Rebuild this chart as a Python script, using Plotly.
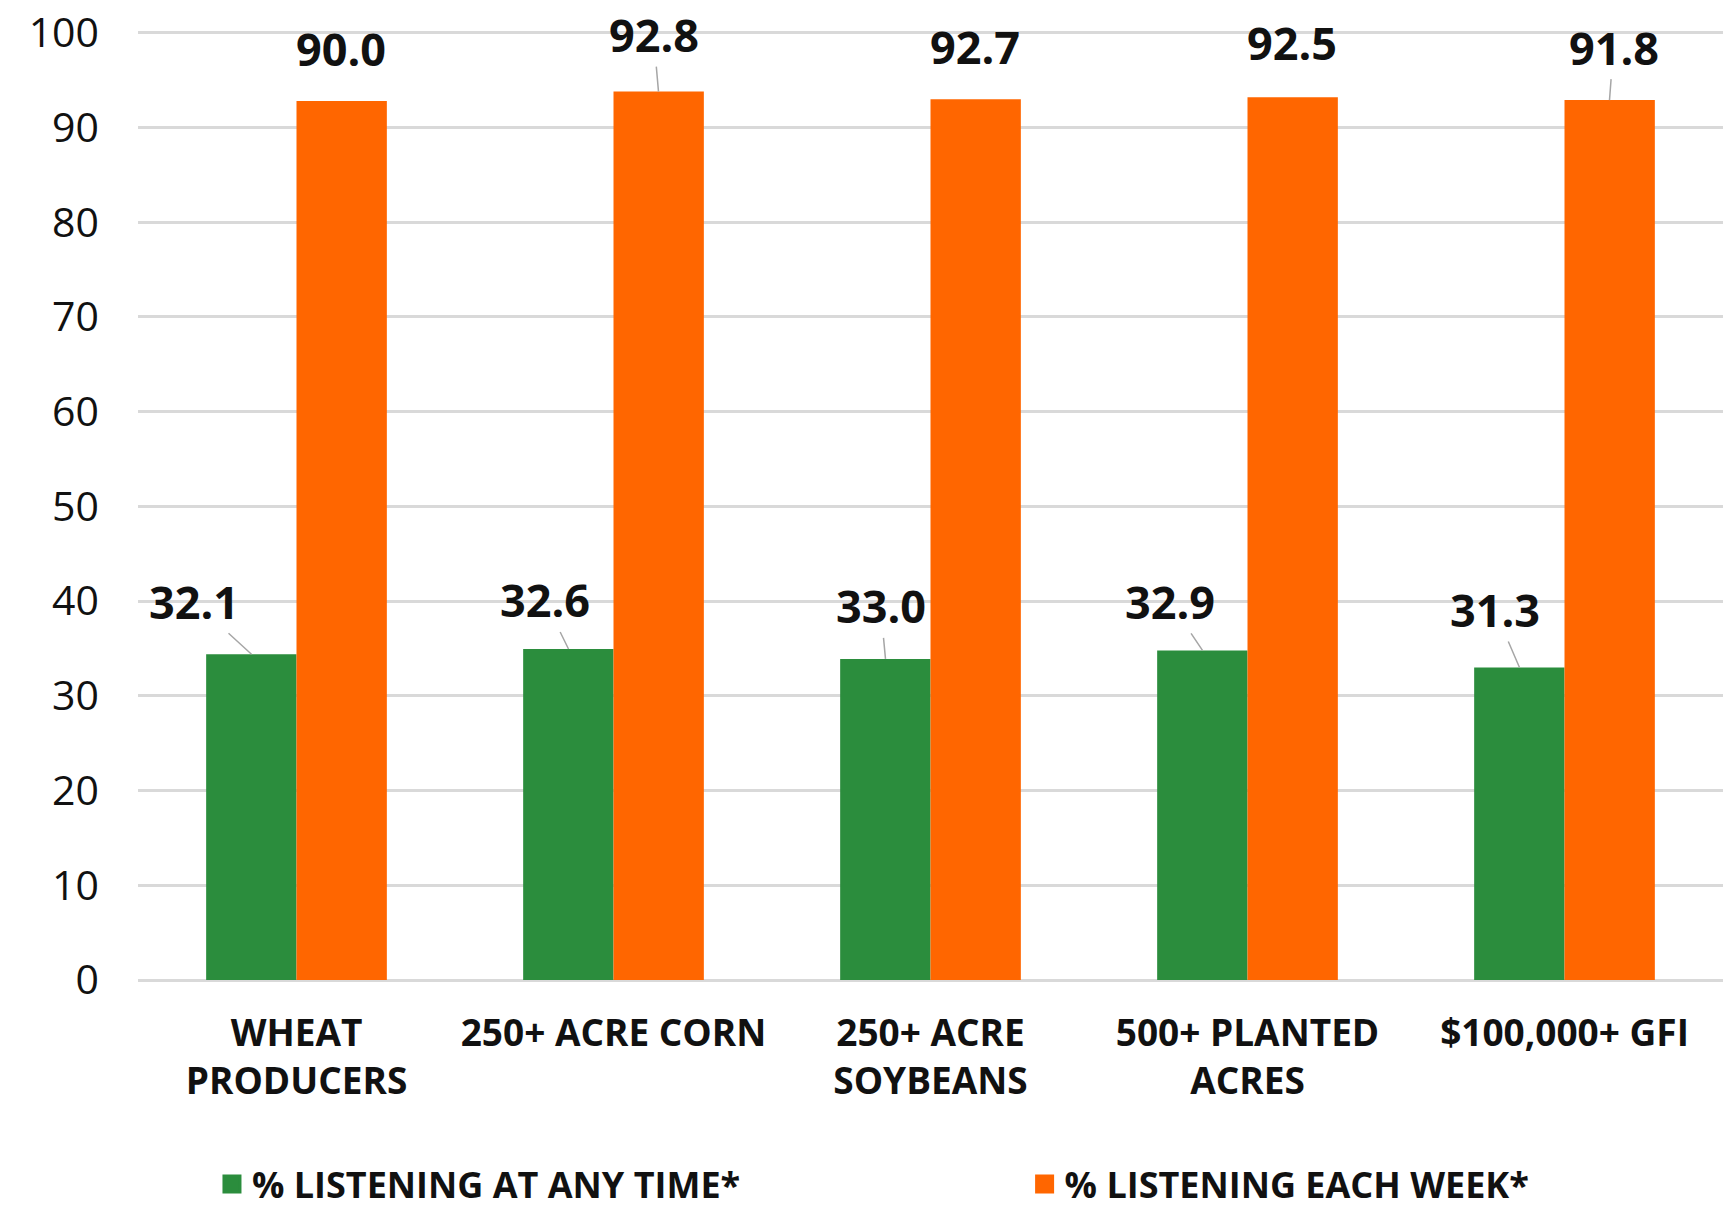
import plotly.graph_objects as go

# ---- data ----
categories = ["WHEAT<br>PRODUCERS", "250+ ACRE CORN", "250+ ACRE<br>SOYBEANS",
              "500+ PLANTED<br>ACRES", "$100,000+ GFI"]
series_names = ["% LISTENING AT ANY TIME*", "% LISTENING EACH WEEK*"]
any_time_bars = [34.4, 34.95, 33.9, 34.8, 33.0]
each_week_bars = [92.8, 93.8, 93.0, 93.2, 92.9]
any_time_labels = ["32.1", "32.6", "33.0", "32.9", "31.3"]
each_week_labels = ["90.0", "92.8", "92.7", "92.5", "91.8"]
y_ticks = [0, 10, 20, 30, 40, 50, 60, 70, 80, 90, 100]

# ---- styling ----
GREEN = "#2b8d3d"
ORANGE = "#ff6600"
FONT = "Open Sans, sans-serif"
BAR_HALF = 45  # px offset of each bar centre from category centre

# label offsets (pixels) from bar top to label centre, and whether a leader line shows
green_off = [(-58, -53, True), (-24, -49, True), (-5, -53, True), (-33, -49, True), (-25, -58, True)]
orange_off = [(-1, -53, False), (-5, -57, True), (-1, -53, False), (-1, -55, False), (4, -53, True)]
legend_x = [0.1226, 0.5926]

fig = go.Figure()
fig.add_trace(go.Bar(x=categories, y=any_time_bars, name=series_names[0],
                     marker_color=GREEN, marker_line_width=0, showlegend=False))
fig.add_trace(go.Bar(x=categories, y=each_week_bars, name=series_names[1],
                     marker_color=ORANGE, marker_line_width=0, showlegend=False))
# legend entries with larger square swatches, one legend box each
for i, (nm, col) in enumerate(zip(series_names, [GREEN, ORANGE])):
    fig.add_trace(go.Scatter(x=[None], y=[None], mode="markers", name=nm,
                             legend="legend" if i == 0 else "legend2",
                             marker=dict(symbol="square", size=16, color=col,
                                         line=dict(width=3, color=col))))

annotations = []
for series_vals, series_labs, offs, sign in [
        (any_time_bars, any_time_labels, green_off, -1),
        (each_week_bars, each_week_labels, orange_off, 1)]:
    for cat, val, lab, (ax, ay, line) in zip(categories, series_vals, series_labs, offs):
        annotations.append(dict(x=cat, y=val, xshift=sign * BAR_HALF, text=f"<b>{lab}</b>",
                                showarrow=True, arrowhead=0, arrowwidth=1.5,
                                arrowcolor="#a6a6a6" if line else "rgba(0,0,0,0)",
                                ax=ax, ay=ay, standoff=0, startstandoff=0,
                                font=dict(size=45, color="#111111", family=FONT)))

legend_common = dict(orientation="h", xref="container", yref="container",
                     y=0.0, xanchor="left", yanchor="bottom",
                     font=dict(size=36, family=FONT, color="#111111", weight="bold"),
                     itemwidth=30, bgcolor="rgba(0,0,0,0)")
fig.update_layout(
    width=1729, height=1214,
    margin=dict(l=138, r=6, t=30, b=234, autoexpand=False),
    plot_bgcolor="white", paper_bgcolor="white",
    barmode="group", bargap=0.43, bargroupgap=0,
    font=dict(family=FONT, color="#111111"),
    annotations=annotations,
    legend=dict(x=legend_x[0], **legend_common),
    legend2=dict(x=legend_x[1], **legend_common),
)
fig.update_yaxes(range=[0, 100.3], tickvals=y_ticks, showgrid=True, gridcolor="#d9d9d9",
                 gridwidth=2.5, zeroline=True, zerolinecolor="#d9d9d9", zerolinewidth=2.5,
                 showline=False, ticks="", ticklabelstandoff=38, automargin=False,
                 ticklabeloverflow="allow",
                 tickfont=dict(size=41, family=FONT, color="#111111"))
fig.update_xaxes(showline=False, ticks="", ticklabelstandoff=28, automargin=False,
                 tickfont=dict(size=37, family=FONT, color="#111111", weight="bold"))

fig.write_html("out.html", config={"displayModeBar": False},
               post_script="document.body.style.margin='0';document.body.style.overflow='hidden';")
